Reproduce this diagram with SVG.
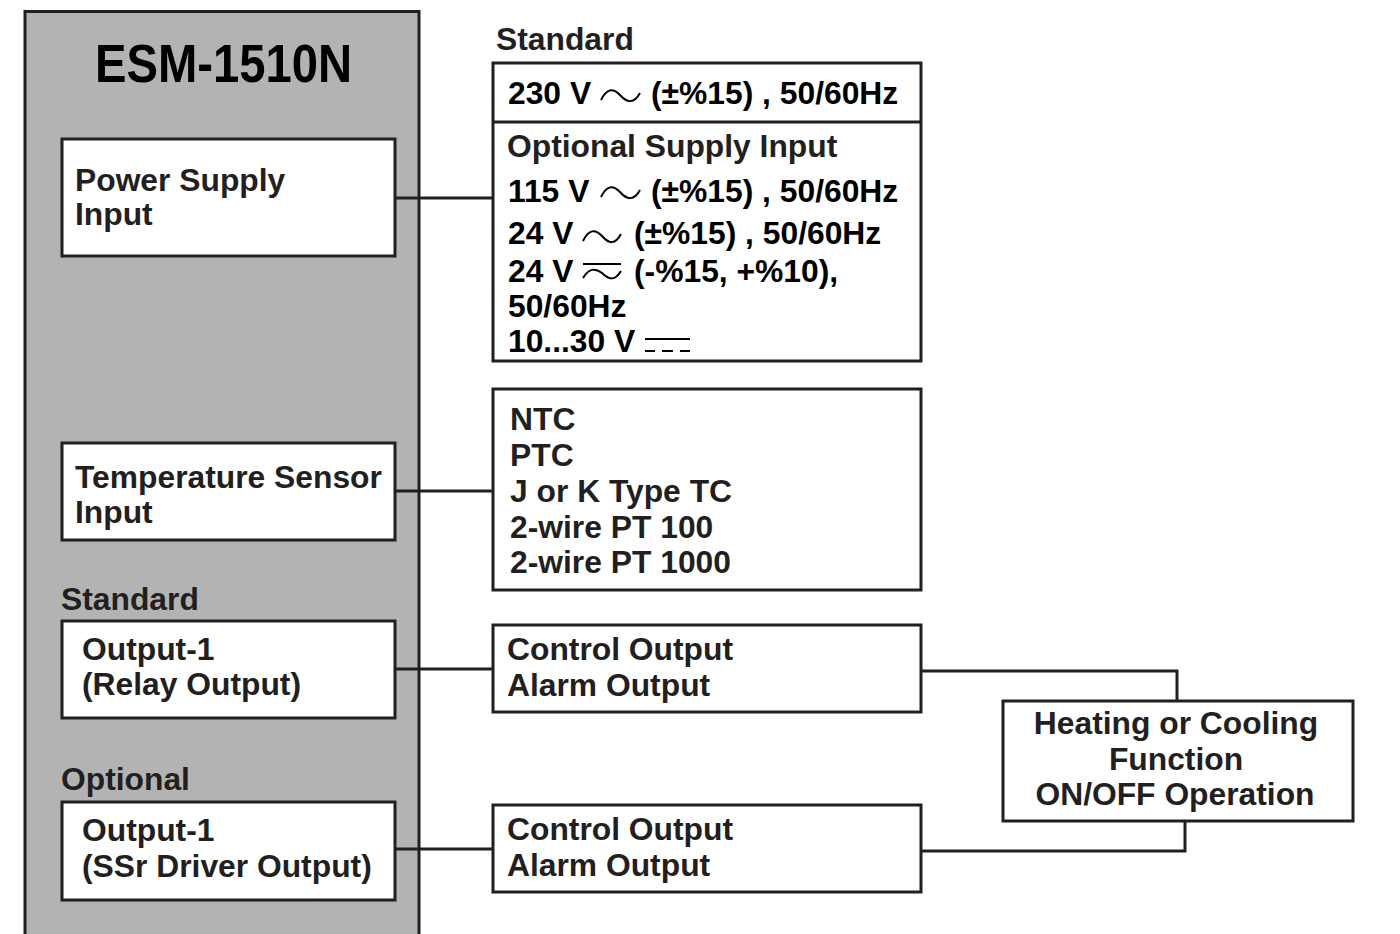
<svg xmlns="http://www.w3.org/2000/svg" width="1400" height="934" viewBox="0 0 1400 934">
<style>
.box{fill:#fff;stroke:#231f20;stroke-width:3}
.t{font-family:"Liberation Sans",Arial,sans-serif;font-weight:bold;font-size:31.8px;fill:#231f20}
.k{fill:#000}
.ln{fill:none;stroke:#231f20;stroke-width:3}
.sym{fill:none;stroke:#000;stroke-width:2}
</style>
<rect width="1400" height="934" fill="#fff"/>
<g id="device">
<rect x="25" y="11.5" width="394" height="930" fill="#b3b3b3" stroke="#231f20" stroke-width="3"/>
<text class="t k" x="95" y="82" style="font-size:53px" textLength="257" lengthAdjust="spacingAndGlyphs">ESM-1510N</text>
</g>
<g id="connectors">
<line class="ln" x1="396" y1="198" x2="492" y2="198"/>
<line class="ln" x1="396" y1="491" x2="492" y2="491"/>
<line class="ln" x1="396" y1="669" x2="492" y2="669"/>
<line class="ln" x1="396" y1="849" x2="492" y2="849"/>
<polyline class="ln" points="922,671 1177,671 1177,701"/>
<polyline class="ln" points="922,851 1185,851 1185,821"/>
</g>
<g id="power-supply-input">
<rect class="box" x="62" y="139" width="333" height="117"/>
<text class="t" x="75" y="191">Power Supply</text>
<text class="t" x="75" y="225">Input</text>
</g>
<g id="temp-sensor-input">
<rect class="box" x="62" y="443" width="333" height="97"/>
<text class="t" x="75" y="488">Temperature Sensor</text>
<text class="t" x="75" y="523">Input</text>
</g>
<g id="label-standard-out">
<text class="t" x="61" y="610">Standard</text>
</g>
<g id="output-relay">
<rect class="box" x="62" y="621" width="333" height="97"/>
<text class="t" x="82" y="660">Output-1</text>
<text class="t" x="82" y="695">(Relay Output)</text>
</g>
<g id="label-optional-out">
<text class="t" x="61" y="790">Optional</text>
</g>
<g id="output-ssr">
<rect class="box" x="62" y="802" width="333" height="98"/>
<text class="t" x="82" y="841">Output-1</text>
<text class="t" x="82" y="877">(SSr Driver Output)</text>
</g>
<g id="supply-options">
<text class="t" x="496" y="50">Standard</text>
<rect class="box" x="493" y="63" width="428" height="298"/>
<line class="ln" x1="493" y1="122" x2="921" y2="122"/>
<text class="t k" x="508" y="104">230 V</text>
<path class="sym" d="M601,100 C607,88 613,88 620,95 C627,103 634,104 640,93"/>
<text class="t k" x="651" y="104">(±%15) , 50/60Hz</text>
<text class="t" x="507" y="157">Optional Supply Input</text>
<text class="t k" x="508" y="202">115 V</text>
<path class="sym" d="M601,197 C607,185 613,185 620,192 C627,200 634,201 640,190"/>
<text class="t k" x="651" y="202">(±%15) , 50/60Hz</text>
<text class="t k" x="508" y="244">24 V</text>
<path class="sym" d="M583,241 C589,229 595,229 602,236 C609,244 615,245 621,234"/>
<text class="t k" x="634" y="244">(±%15) , 50/60Hz</text>
<text class="t k" x="508" y="282">24 V</text>
<line class="sym" x1="583" y1="264" x2="621" y2="264"/>
<path class="sym" d="M583,278 C589,268 595,268 602,273 C609,280 615,281 621,271"/>
<text class="t k" x="634" y="282">(-%15, +%10),</text>
<text class="t k" x="508" y="317">50/60Hz</text>
<text class="t k" x="508" y="352">10...30 V</text>
<line class="sym" x1="645" y1="339" x2="690" y2="339"/>
<path class="sym" d="M645,351 h10 M662,351 h11 M680,351 h10"/>
</g>
<g id="sensor-types">
<rect class="box" x="493" y="389" width="428" height="201"/>
<text class="t" x="510" y="430">NTC</text>
<text class="t" x="510" y="466">PTC</text>
<text class="t" x="510" y="502">J or K Type TC</text>
<text class="t" x="510" y="538">2-wire PT 100</text>
<text class="t" x="510" y="573">2-wire PT 1000</text>
</g>
<g id="relay-functions">
<rect class="box" x="493" y="625" width="428" height="87"/>
<text class="t" x="507" y="660">Control Output</text>
<text class="t" x="507" y="696">Alarm Output</text>
</g>
<g id="ssr-functions">
<rect class="box" x="493" y="805" width="428" height="87"/>
<text class="t" x="507" y="840">Control Output</text>
<text class="t" x="507" y="876">Alarm Output</text>
</g>
<g id="heating-cooling">
<rect class="box" x="1003" y="701" width="350" height="120"/>
<text class="t" x="1176" y="734" text-anchor="middle">Heating or Cooling</text>
<text class="t" x="1176" y="770" text-anchor="middle">Function</text>
<text class="t" x="1175" y="805" text-anchor="middle">ON/OFF Operation</text>
</g>
</svg>
